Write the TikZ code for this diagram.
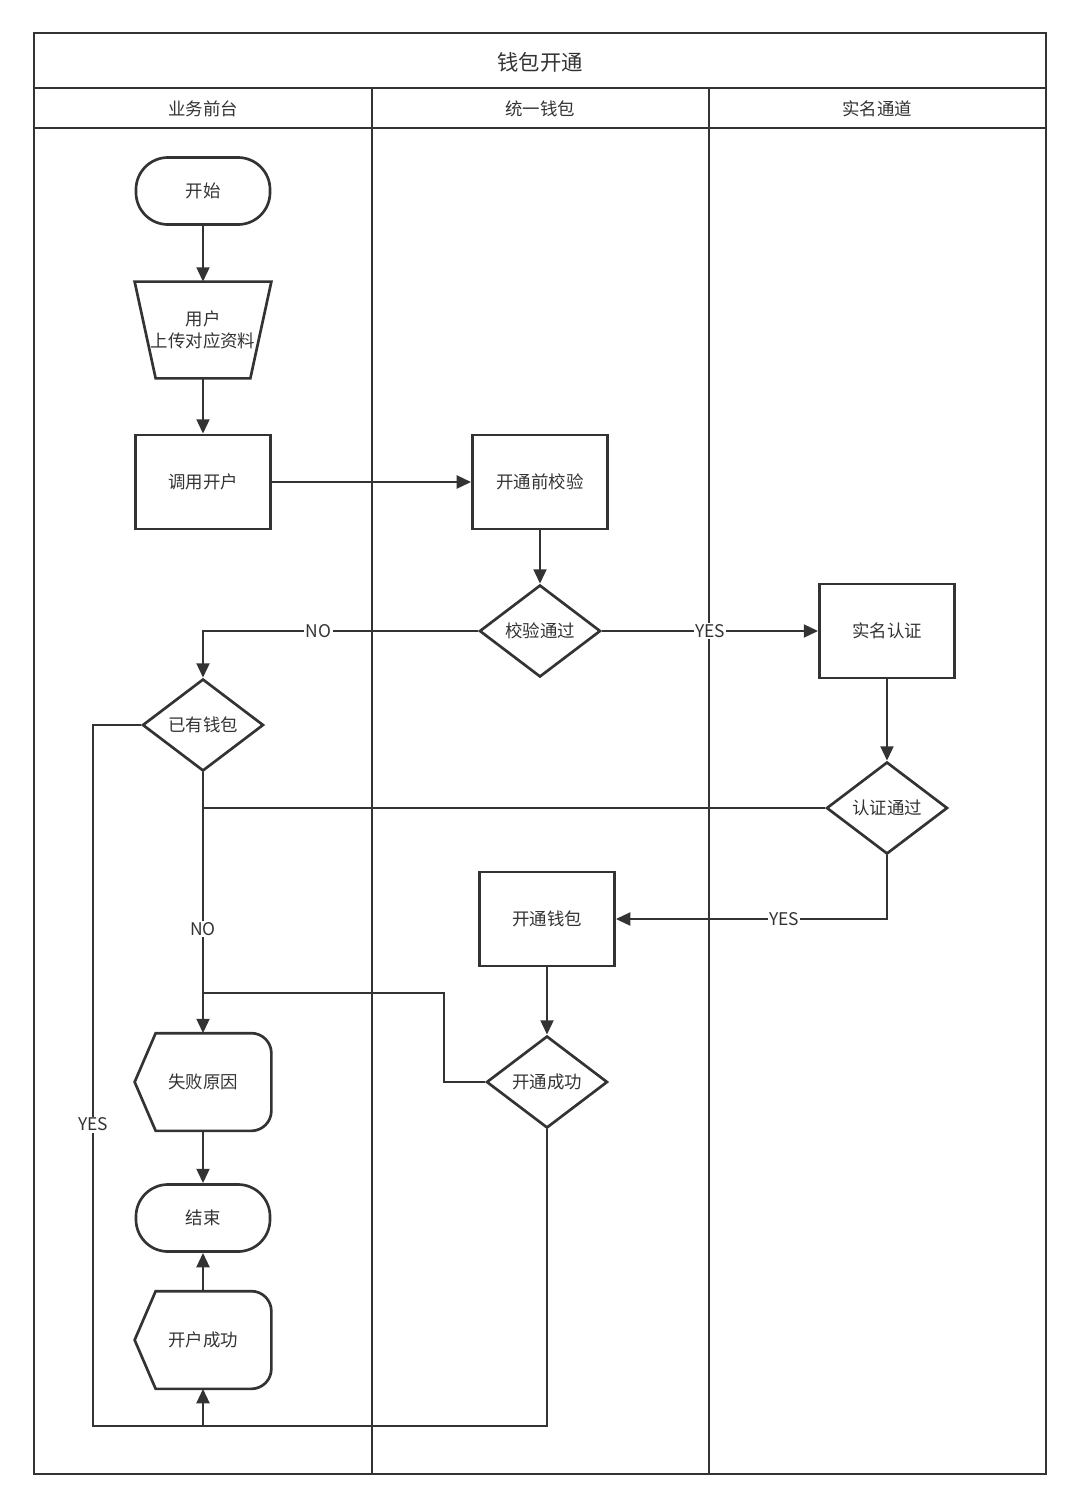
\documentclass[tikz,border=0pt]{standalone}
\usepackage{fontspec}
\setmainfont{Noto Sans CJK SC}
\usetikzlibrary{arrows.meta,shapes.geometric}

\definecolor{ink}{HTML}{333333}

\begin{document}
\begin{tikzpicture}[x=0.025cm,y=-0.025cm,line width=1.9pt,color=ink,
  font=\fontsize{12.4}{15.5}\selectfont,
  >={Triangle[length=3.6mm,width=3.2mm]},
  term/.style={draw,rectangle,rounded corners=0.8cm,minimum width=3.35cm,minimum height=1.675cm},
  proc/.style={draw,rectangle,minimum width=3.375cm,minimum height=2.35cm},
  decide/.style={draw,diamond,minimum width=3.025cm,minimum height=2.3cm,inner sep=0pt},
  shell/.style={rectangle,minimum width=3.35cm,minimum height=2.375cm,inner sep=0pt,align=center},
  lbl/.style={fill=white,inner sep=1pt}]
  \useasboundingbox (0,0) rectangle (1080,1508);

  % pool and lanes
  \draw (34,33) rectangle (1046,1474);
  \draw (34,88) -- (1046,88) (34,128) -- (1046,128);
  \draw (372,88) -- (372,1474) (709,88) -- (709,1474);
  \node[font=\fontsize{15.2}{18}\selectfont] (pool) at (540,62) {钱包开通};
  \node (lanea) at (203,109) {业务前台};
  \node (laneb) at (540,109) {统一钱包};
  \node (lanec) at (877,109) {实名通道};

  % front desk
  \node[term] (start) at (203,191) {开始};
  \node[shell,minimum height=2.35cm] (upload) at (203,330) {用户\\上传对应资料};
  \draw (upload.north west) -- (upload.north east) -- ([xshift=-0.525cm]upload.south east)
    -- ([xshift=0.525cm]upload.south west) -- cycle;
  \node[proc] (open) at (203,482) {调用开户};
  \node[decide] (haswallet) at (203,725) {已有钱包};
  \node[shell] (fail) at (203,1082) {失败原因};
  \draw (fail.west) -- ([xshift=0.525cm]fail.north west) -- ([xshift=-0.5cm]fail.north east)
    arc[start angle=90,end angle=0,radius=0.5cm] -- ([yshift=0.5cm]fail.south east)
    arc[start angle=0,end angle=-90,radius=0.5cm] -- ([xshift=0.525cm]fail.south west) -- cycle;
  \node[term] (finish) at (203,1218) {结束};
  \node[shell] (succ) at (203,1340) {开户成功};
  \draw (succ.west) -- ([xshift=0.525cm]succ.north west) -- ([xshift=-0.5cm]succ.north east)
    arc[start angle=90,end angle=0,radius=0.5cm] -- ([yshift=0.5cm]succ.south east)
    arc[start angle=0,end angle=-90,radius=0.5cm] -- ([xshift=0.525cm]succ.south west) -- cycle;

  % wallet
  \node[proc] (precheck) at (540,482) {开通前校验};
  \node[decide] (checkok) at (540,631) {校验通过};
  \node[proc] (openwallet) at (547,919) {开通钱包};
  \node[decide] (openok) at (547,1082) {开通成功};

  % real-name channel
  \node[proc] (realname) at (887,631) {实名认证};
  \node[decide] (authok) at (887,808) {认证通过};

  \coordinate (okjoin) at (203,993);
  \coordinate (botjoin) at (203,1426);

  \draw[->] (start.south) -- (upload.north);
  \draw[->] (upload.south) -- (open.north);
  \draw[->] (open.east) -- (precheck.west);
  \draw[->] (precheck.south) -- (checkok.north);
  \draw[->] (checkok.west) -| node[lbl,pos=0.29] {NO} (haswallet.north);
  \draw[->] (checkok.east) -- node[lbl] {YES} (realname.west);
  \draw[->] (realname.south) -- (authok.north);
  \draw (authok.west) -- (authok.west -| haswallet.south);
  \draw[->] (haswallet.south) -- node[lbl,pos=0.6] {NO} (fail.north);
  \draw[->] (authok.south) |- node[lbl,pos=0.69] {YES} (openwallet.east);
  \draw[->] (openwallet.south) -- (openok.north);
  \draw (openok.west) -- ++(-41,0) |- (okjoin);
  \draw[->] (fail.south) -- (finish.north);
  \draw[->] (succ.north) -- (finish.south);
  \draw[->] (openok.south) |- (botjoin) -- (succ.south);
  \draw (haswallet.west) -- ++(-48,0) |- node[lbl,pos=0.285] {YES} (botjoin);
\end{tikzpicture}
\end{document}
